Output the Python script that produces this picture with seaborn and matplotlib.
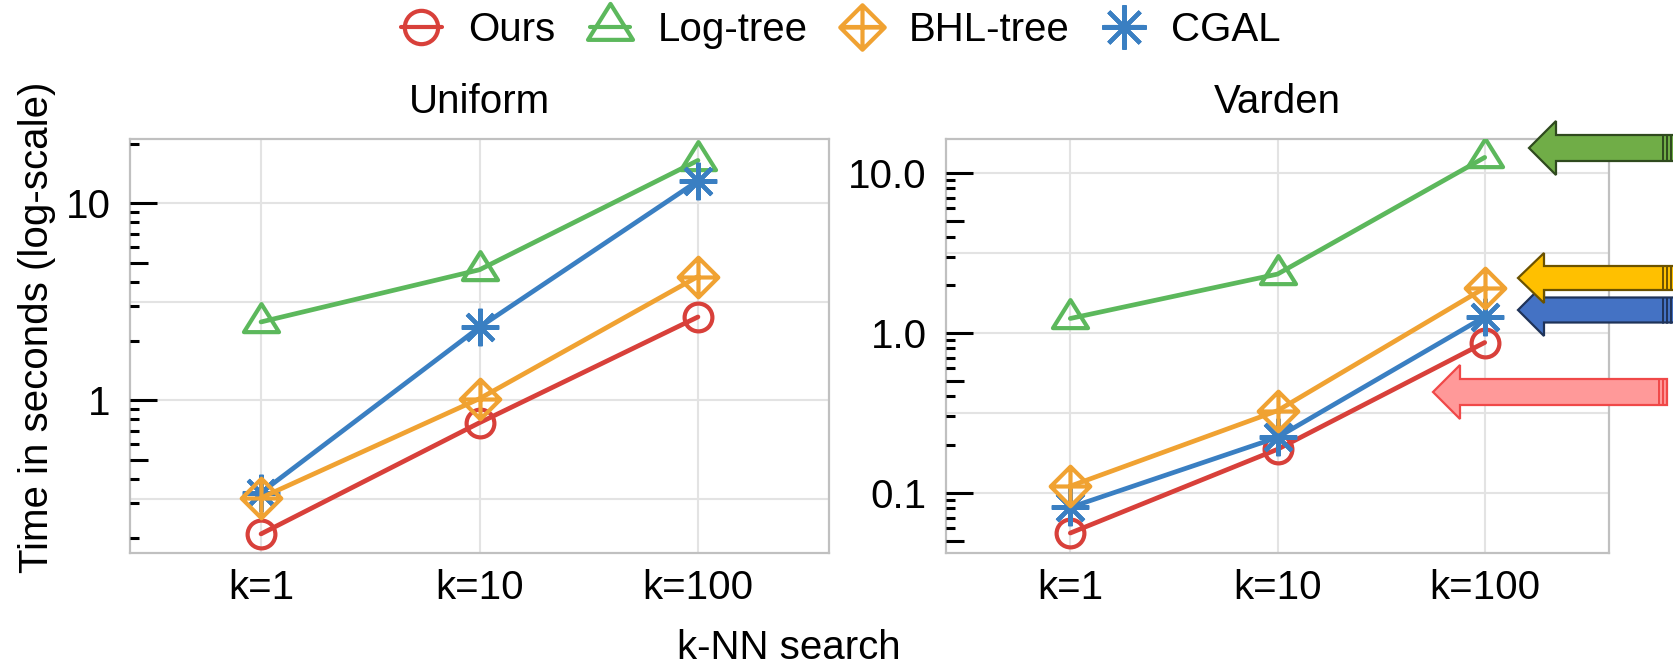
import numpy as np
import pandas as pd
import matplotlib
matplotlib.use("Agg")
import matplotlib.pyplot as plt
import seaborn as sns
from matplotlib.path import Path
from matplotlib.patches import Polygon
from matplotlib.lines import Line2D

# ---------------- data ----------------
categories = ["k=1", "k=10", "k=100"]
methods = ["Ours", "Log-tree", "BHL-tree", "CGAL"]

uniform_ours = [0.21, 0.77, 2.65]
uniform_logtree = [2.5, 4.6, 16.5]
uniform_bhl = [0.32, 1.02, 4.25]
uniform_cgal = [0.34, 2.35, 13.0]

varden_ours = [0.056, 0.187, 0.87]
varden_logtree = [1.23, 2.33, 12.5]
varden_bhl = [0.11, 0.326, 1.91]
varden_cgal = [0.081, 0.222, 1.26]

uniform_yticks = [1, 10]
uniform_yticklabels = ["1", "10"]
varden_yticks = [0.1, 1, 10]
varden_yticklabels = ["0.1", "1.0", "10.0"]

panels = [
    ("Uniform", {"Ours": uniform_ours, "Log-tree": uniform_logtree,
                 "BHL-tree": uniform_bhl, "CGAL": uniform_cgal},
     uniform_yticks, uniform_yticklabels, (0.168, 21.2)),
    ("Varden", {"Ours": varden_ours, "Log-tree": varden_logtree,
                "BHL-tree": varden_bhl, "CGAL": varden_cgal},
     varden_yticks, varden_yticklabels, (0.042, 16.3)),
]

# ---------------- style ----------------
sns.set_theme(style="white")
plt.rcParams["font.family"] = ["Liberation Sans", "DejaVu Sans"]
plt.rcParams["text.color"] = "black"
plt.rcParams["axes.labelcolor"] = "black"
plt.rcParams["xtick.labelcolor"] = "black"
plt.rcParams["ytick.labelcolor"] = "black"
FS = 29

colors = {"Ours": "#d8403a", "Log-tree": "#5cb85c",
          "BHL-tree": "#f0a232", "CGAL": "#3a7fc2"}

diamond_plus = Path(
    [(0, 1), (1, 0), (0, -1), (-1, 0), (0, 1), (0, 1), (0, -1), (-1, 0), (1, 0)],
    [Path.MOVETO, Path.LINETO, Path.LINETO, Path.LINETO, Path.CLOSEPOLY,
     Path.MOVETO, Path.LINETO, Path.MOVETO, Path.LINETO])
tri = Path([(0, 1.05), (-1, -0.55), (1, -0.55), (0, 1.05)],
           [Path.MOVETO, Path.LINETO, Path.LINETO, Path.CLOSEPOLY])
markers = {"Ours": "o", "Log-tree": tri, "BHL-tree": diamond_plus, "CGAL": (8, 2, 0)}
msizes = {"Ours": 20, "Log-tree": 26.5, "BHL-tree": 28.5, "CGAL": 27}
leg_msizes = {"Ours": 24, "Log-tree": 34, "BHL-tree": 32, "CGAL": 32}
draw_order = ["Ours", "Log-tree", "CGAL", "BHL-tree"]

W, H = 1673, 666
fig = plt.figure(figsize=(W / 100, H / 100), dpi=100)

axes_px = [(130, 139, 829, 553), (946, 139, 1609, 553)]
GRID_C = "#e3e3e3"
SPINE_C = "#c0c0c0"

x_pos = np.arange(len(categories))

for (title, series, yt, ytl, ylim), (l, t, r, b) in zip(panels, axes_px):
    ax = fig.add_axes([l / W, 1 - b / H, (r - l) / W, (b - t) / H])
    ax.set_yscale("log")
    ax.set_ylim(*ylim)
    ax.set_xlim(-0.6, 2.6)
    # gridlines
    ax.set_xticks(x_pos)
    ax.set_xticklabels(categories, fontsize=FS)
    ax.xaxis.grid(True, color=GRID_C, lw=1.5)
    lo, hi = np.log10(ylim[0]), np.log10(ylim[1])
    for e in np.arange(np.floor(lo * 2) / 2, np.ceil(hi * 2) / 2 + 0.01, 0.5):
        v = 10 ** e
        if ylim[0] < v < ylim[1]:
            ax.axhline(v, color=GRID_C, lw=1.5, zorder=0.5)
    ax.set_yticks(yt)
    ax.set_yticklabels(ytl, fontsize=FS)
    ax.yaxis.set_minor_locator(matplotlib.ticker.NullLocator())
    ax.tick_params(axis="both", which="major", direction="out", length=7,
                   width=1.2, color="#cccccc", pad=7, labelsize=FS)
    ax.tick_params(axis="x", pad=4.5)
    # black inner ticks
    axw = r - l
    for d in range(int(np.floor(lo)) - 1, int(np.ceil(hi)) + 1):
        for m in range(1, 10):
            v = m * 10.0 ** d
            if ylim[0] < v < ylim[1]:
                L = 27 if m == 1 else (18 if m == 5 else 9)
                ax.hlines(v, 0, L / axw, transform=ax.get_yaxis_transform(),
                          color="black", lw=2.2, zorder=3, clip_on=False)
    for s in ax.spines.values():
        s.set_color(SPINE_C)
        s.set_linewidth(1.6)
    for mth in draw_order:
        df = pd.DataFrame({"x": x_pos, "y": series[mth]})
        sns.lineplot(data=df, x="x", y="y", ax=ax, color=colors[mth],
                     marker=markers[mth], markersize=msizes[mth],
                     markerfacecolor="none", markeredgecolor=colors[mth],
                     markeredgewidth=3, lw=3.4, zorder=4)
    ax.set_xlabel("")
    ax.set_ylabel("")
    ax.set_title(title, fontsize=FS, pad=19, color="black")

# legend
handles = [Line2D([], [], color=colors[m], marker=markers[m], markersize=leg_msizes[m],
                  markerfacecolor="none", markeredgecolor=colors[m],
                  markeredgewidth=3, lw=3) for m in methods]
fig.legend(handles, methods, loc="center", bbox_to_anchor=(841 / W, 1 - 30 / H),
           ncol=4, frameon=False, fontsize=FS, handlelength=1.0,
           handletextpad=0.67, columnspacing=0.85)

fig.text(37 / W, 1 - 327 / H, "Time in seconds (log-scale)", rotation=90,
         ha="center", va="center", fontsize=FS)
fig.text(789 / W, 1 - 648 / H, "k-NN search", ha="center", va="center", fontsize=FS)

# annotation arrows (figure pixel coords, y from top)
def arrow(tip_x, tip_y, base_x, head_half, shaft_half, tail_x, face, edge, extra_lines):
    pts = [(tip_x, tip_y), (base_x, tip_y - head_half), (base_x, tip_y - shaft_half),
           (tail_x, tip_y - shaft_half), (tail_x, tip_y + shaft_half),
           (base_x, tip_y + shaft_half), (base_x, tip_y + head_half)]
    pts = [(x / W, 1 - y / H) for x, y in pts]
    fig.add_artist(Polygon(pts, closed=True, facecolor=face, edgecolor=edge,
                           lw=1.6, transform=fig.transFigure, zorder=10))
    for xl in extra_lines:
        fig.add_artist(Line2D([xl / W, xl / W],
                              [1 - (tip_y - shaft_half) / H, 1 - (tip_y + shaft_half) / H],
                              color=edge, lw=1.4, transform=fig.transFigure, zorder=11))

arrow(1529, 148, 1556, 27, 13, 1680, "#70ad47", "#2f4a1e", [1663, 1667, 1671])
arrow(1518, 310, 1544, 26, 12.5, 1680, "#4472c4", "#1f3359", [1663, 1667, 1671])
arrow(1518, 278, 1544, 25, 12, 1680, "#ffc000", "#6b5200", [1663, 1667, 1671])
arrow(1433, 392, 1460, 27, 13, 1667, "#ff9999", "#f04848", [1659, 1663])

fig.savefig("out.png", dpi=100)
